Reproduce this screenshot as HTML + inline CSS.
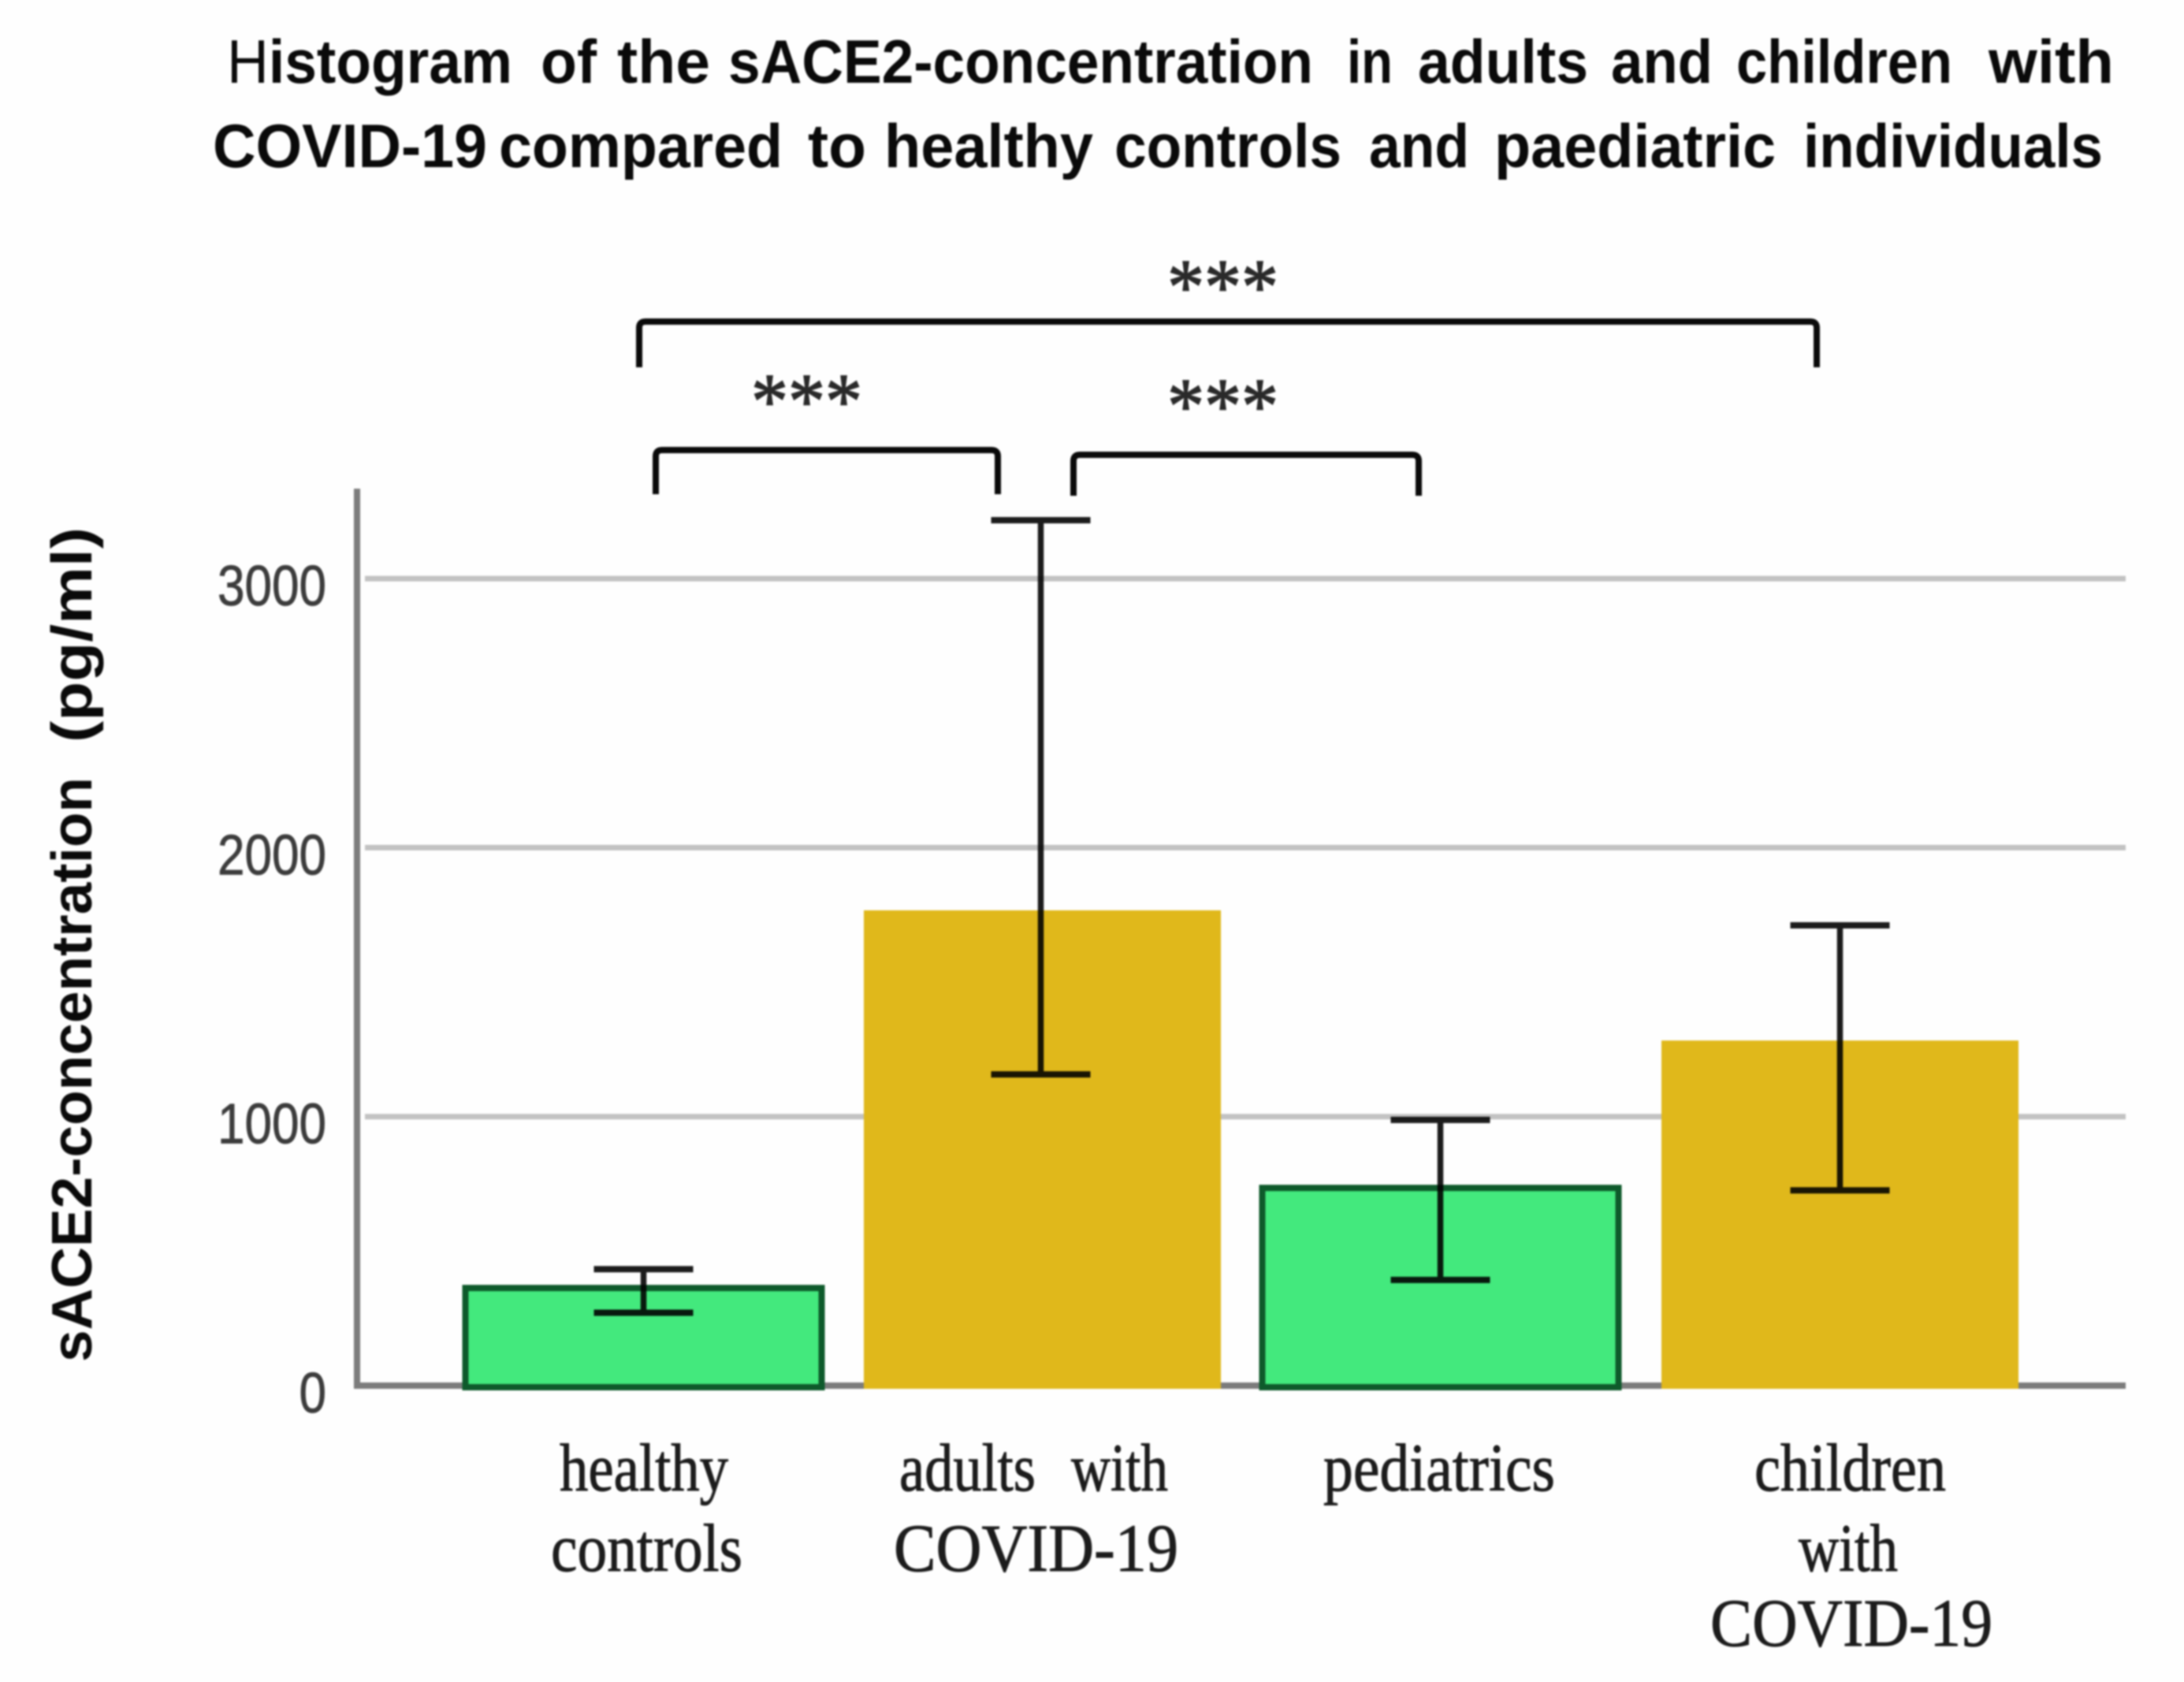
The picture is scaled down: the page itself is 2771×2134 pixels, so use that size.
<!DOCTYPE html>
<html lang="en">
<head>
<meta charset="utf-8">
<title>Histogram of the sACE2-concentration</title>
<style>
  html, body { margin: 0; padding: 0; background: #fefefe; }
  svg { display: block; filter: blur(1.1px); }
  .title { font-family: "Liberation Sans", sans-serif; font-weight: 700; font-size: 78px; fill: #0a0a0a; }
  .ylab { font-family: "Liberation Sans", sans-serif; font-weight: 700; font-size: 72px; fill: #0a0a0a; }
  .tick { font-family: "Liberation Sans", sans-serif; font-size: 72px; fill: #3c3c3c; stroke: #3c3c3c; stroke-width: 0.8px; }
  .cat { font-family: "Liberation Serif", serif; font-size: 86px; fill: #1c1c1c; stroke: #1c1c1c; stroke-width: 1px; }
  .star { font-family: "Liberation Serif", serif; font-size: 100px; fill: #2a2a2a; stroke: #2a2a2a; stroke-width: 1.5px; }
  .bracket { fill: none; stroke: #0a0a0a; stroke-width: 8; }
</style>
</head>
<body>
<svg id="chart" xmlns="http://www.w3.org/2000/svg" width="2771" height="2134" viewBox="0 0 2771 2134">
  <rect x="0" y="0" width="2771" height="2134" fill="#fefefe"/>

  <g class="title">
    <text y="105"><tspan x="288" textLength="362" lengthAdjust="spacingAndGlyphs"><tspan font-weight="400">H</tspan>istogram</tspan></text>
    <text x="686" y="105" textLength="71" lengthAdjust="spacingAndGlyphs">of</text>
    <text x="783" y="105" textLength="118" lengthAdjust="spacingAndGlyphs">the</text>
    <text x="924" y="105" textLength="742" lengthAdjust="spacingAndGlyphs">sACE2-concentration</text>
    <text x="1709" y="105" textLength="58" lengthAdjust="spacingAndGlyphs">in</text>
    <text x="1799" y="105" textLength="216" lengthAdjust="spacingAndGlyphs">adults</text>
    <text x="2044" y="105" textLength="129" lengthAdjust="spacingAndGlyphs">and</text>
    <text x="2203" y="105" textLength="274" lengthAdjust="spacingAndGlyphs">children</text>
    <text x="2523" y="105" textLength="159" lengthAdjust="spacingAndGlyphs">with</text>
    <text x="270" y="212" textLength="348" lengthAdjust="spacingAndGlyphs">COVID-19</text>
    <text x="633" y="212" textLength="360" lengthAdjust="spacingAndGlyphs">compared</text>
    <text x="1025" y="212" textLength="74" lengthAdjust="spacingAndGlyphs">to</text>
    <text x="1122" y="212" textLength="265" lengthAdjust="spacingAndGlyphs">healthy</text>
    <text x="1414" y="212" textLength="288" lengthAdjust="spacingAndGlyphs">controls</text>
    <text x="1737" y="212" textLength="127" lengthAdjust="spacingAndGlyphs">and</text>
    <text x="1896" y="212" textLength="357" lengthAdjust="spacingAndGlyphs">paediatric</text>
    <text x="2288" y="212" textLength="380" lengthAdjust="spacingAndGlyphs">individuals</text>
  </g>

  <g class="ylab" transform="translate(116,1728) rotate(-90)">
    <text x="0" y="0" textLength="742" lengthAdjust="spacingAndGlyphs">sACE2-concentration</text>
    <text x="786" y="0" textLength="273" lengthAdjust="spacingAndGlyphs">(pg/ml)</text>
  </g>

  <g id="grid"></g>
  <g id="ticks"></g>
  <g id="axes"></g>
  <g id="bars"></g>
  <g id="errors" style="mix-blend-mode:multiply"></g>

  <g>
    <path class="bracket" d="M811 466 V416 Q811 408 819 408 H2297 Q2305 408 2305 416 V466"/>
    <path class="bracket" d="M832 627 V579 Q832 571 840 571 H1258 Q1266 571 1266 579 V627"/>
    <path class="bracket" d="M1362 629 V585 Q1362 577 1370 577 H1792 Q1800 577 1800 585 V629"/>
    <text class="star" x="1481" y="397" textLength="141" lengthAdjust="spacingAndGlyphs">***</text>
    <text class="star" x="953" y="542" textLength="141" lengthAdjust="spacingAndGlyphs">***</text>
    <text class="star" x="1481" y="548" textLength="141" lengthAdjust="spacingAndGlyphs">***</text>
  </g>

  <g class="cat">
    <text><tspan x="710" y="1891" textLength="214" lengthAdjust="spacingAndGlyphs">healthy</tspan><tspan x="699" y="1993" textLength="243" lengthAdjust="spacingAndGlyphs">controls</tspan></text>
    <text><tspan x="1141" y="1891" textLength="173" lengthAdjust="spacingAndGlyphs">adults</tspan><tspan x="1359" y="1891" textLength="123" lengthAdjust="spacingAndGlyphs">with</tspan><tspan x="1134" y="1993" textLength="361" lengthAdjust="spacingAndGlyphs">COVID-19</tspan></text>
    <text x="1679" y="1891" textLength="294" lengthAdjust="spacingAndGlyphs">pediatrics</text>
    <text><tspan x="2226" y="1891" textLength="243" lengthAdjust="spacingAndGlyphs">children</tspan><tspan x="2282" y="1993" textLength="126" lengthAdjust="spacingAndGlyphs">with</tspan><tspan x="2170" y="2088" textLength="358" lengthAdjust="spacingAndGlyphs">COVID-19</tspan></text>
  </g>
</svg>

<script>
const categories = ["healthy-controls", "adults-with-covid", "pediatrics", "children-with-covid"];
const means = [360, 1764, 732, 1280];
const errorLow = [268, 1154, 390, 723];
const errorHigh = [430, 3214, 985, 1708];
const tickValues = [0, 1000, 2000, 3000];
const tickLabels = ["0", "1000", "2000", "3000"];

const NS = "http://www.w3.org/2000/svg";
const y0 = 1757, pxPerUnit = 0.3413;
function yScale(v) { return y0 - v * pxPerUnit; }
function xCenter(i) { return 816.5 + i * 506; }

function make(tag, parent, props) {
  const el = document.createElementNS(NS, tag);
  for (const k in props) el.setAttribute(k, props[k]);
  document.getElementById(parent).appendChild(el);
  return el;
}

// gridlines and tick labels
tickValues.forEach(function (v, i) {
  if (v > 0) {
    const g = make("line", "grid", { x1: 463, x2: 2697, y1: yScale(v) + 1, y2: yScale(v) + 1, stroke: "#c2c2c2", "stroke-width": 7 });
    
    
  }
  const len = tickLabels[i].length * 34.5;
  const t = make("text", "ticks", { class: "tick", x: 414 - len, y: yScale(v) + 35, textLength: len, lengthAdjust: "spacingAndGlyphs" });
  t.textContent = tickLabels[i];
  
  
});

// axes
const yAxis = make("line", "axes", { x1: 453, x2: 453, y1: 620, y2: y0 + 4, stroke: "#7c7c7c", "stroke-width": 8 });


const xAxis = make("line", "axes", { x1: 449, x2: 2697, y1: y0 + 1, y2: y0 + 1, stroke: "#7c7c7c", "stroke-width": 8 });



// bars and error bars
means.forEach(function (m, i) {
  const green = i % 2 === 0;
  const w = green ? 452 : 453;
  const cx = xCenter(i) - (i === 2 ? 1 : 0);
  const top = yScale(m);
  const bottom = green ? yScale(0) + 3 : yScale(0) + 5;
  const props = { x: cx - w / 2, y: top, width: w, height: bottom - top, fill: green ? "#43e97d" : "#e0b81b" };
  if (green) { props.stroke = "#0e5a2b"; props["stroke-width"] = 8; }
  const bar = make("rect", "bars", props);
  
  

  const yHi = yScale(errorHigh[i]);
  const yLo = yScale(errorLow[i]);
  const ex = cx - (i === 1 ? 2 : 0);
  const stem = make("line", "errors", { x1: ex, x2: ex, y1: yHi, y2: yLo, stroke: "#1c1c1c", "stroke-width": 7.5 });
  
  
  const capHi = make("line", "errors", { x1: ex - 63, x2: ex + 63, y1: yHi, y2: yHi, stroke: "#1c1c1c", "stroke-width": 8 });
  
  
  const capLo = make("line", "errors", { x1: ex - 63, x2: ex + 63, y1: yLo, y2: yLo, stroke: "#1c1c1c", "stroke-width": 8 });
  
  
});
</script>
</body>
</html>
